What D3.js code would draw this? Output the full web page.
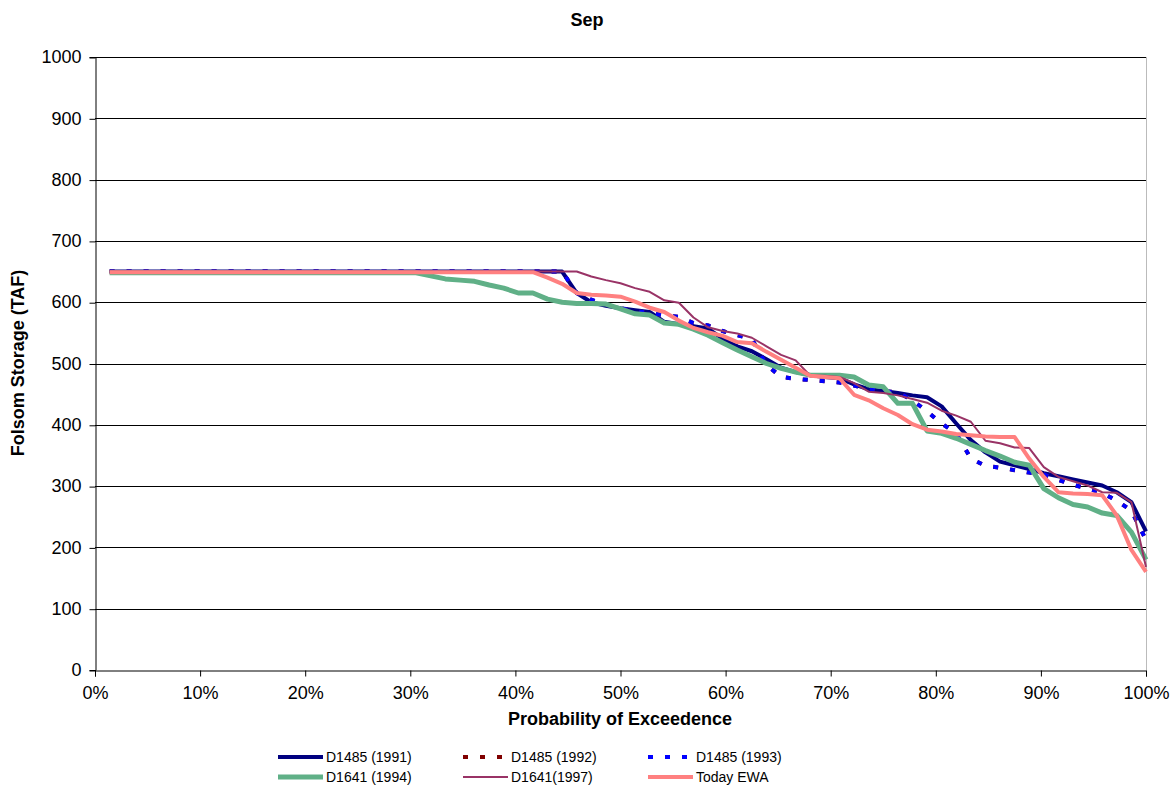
<!DOCTYPE html>
<html><head><meta charset="utf-8">
<script src="https://cdn.jsdelivr.net/npm/d3@7"></script>
<style>body{margin:0;background:#fff;} text{font-family:Arial,"Liberation Sans",sans-serif;}</style>
</head><body><svg id="c" width="1175" height="788"></svg>
<script>
const N = 72; // ranked years, exceedance = i/N
const yTicks = [0,100,200,300,400,500,600,700,800,900,1000];
const xTicks = [0,0.1,0.2,0.3,0.4,0.5,0.6,0.7,0.8,0.9,1.0];

function flat(n, v){ return Array(n).fill(v); }

const d1485_1991 = flat(32,650).concat([615,600,594,590,587,584,568,564,561,557,540,528,520,507,493,486,481,478,476,466,458,455,452,448,445,430,402,375,355,340,334,328,321,316,311,306,301,290,274,226]);
const d1485_1993 = flat(32,650).concat([615,604,596,590,586,582,579,576,566,562,553,546,540,498,478,475,473,471,469,464,458,455,453,440,422,402,386,345,333,330,326,322,319,310,302,296,289,276,260,212]);
const d1485_1992 = d1485_1993.slice();
const d1641_1994 = flat(22,648).concat([643,638,636,634,628,623,615,615,605,600,598,598,597,589,581,579,566,564,556,546,534,522,511,500,492,486,481,481,481,478,465,462,435,435,390,386,378,368,358,349,339,334,296,281,270,266,256,252,225,180]);
const d1641_1997 = flat(33,650).concat([642,636,631,623,617,603,599,575,559,553,549,542,528,514,505,480,480,478,468,454,452,448,442,436,423,415,405,374,370,363,362,331,315,308,301,290,289,274,168]);
const todayEWA = flat(30,649).concat([640,630,615,612,611,609,601,591,584,570,558,551,545,535,533,519,506,493,480,478,476,449,440,427,416,401,392,389,385,383,381,380,380,345,315,290,288,287,285,252,196,160]);

const series = [
  {name:"D1485 (1991)", values:d1485_1991, color:"#000080", width:4, dash:null},
  {name:"D1485 (1992)", values:d1485_1992, color:"#800000", width:4, dash:"5,12"},
  {name:"D1485 (1993)", values:d1485_1993, color:"#0000FF", width:4, dash:"5,12"},
  {name:"D1641 (1994)", values:d1641_1994, color:"#60B087", width:5, dash:null},
  {name:"D1641(1997)", values:d1641_1997, color:"#993366", width:2, dash:null},
  {name:"Today EWA", values:todayEWA, color:"#FF8080", width:4, dash:null}
];

const svg = d3.select("#c");
const L=95, R=1146, T=57, B=670;
const x = d3.scaleLinear().domain([0,1]).range([L,R]);
const y = d3.scaleLinear().domain([0,1000]).range([B,T]);

// gridlines
svg.append("g").selectAll("line").data(yTicks.filter(d=>d>0)).join("line")
  .attr("x1",L).attr("x2",R).attr("y1",d=>Math.round(y(d))+0.5).attr("y2",d=>Math.round(y(d))+0.5)
  .attr("stroke","#000").attr("stroke-width",1);
// right border
svg.append("line").attr("x1",R+0.5).attr("x2",R+0.5).attr("y1",T).attr("y2",B).attr("stroke","#bbb");

// axes
const yAxis = d3.axisLeft(y).tickValues(yTicks).tickSize(6).tickPadding(8).tickFormat(d3.format("d"));
const gy = svg.append("g").attr("transform",`translate(${L+0.5},0)`).call(yAxis);
const xAxis = d3.axisBottom(x).tickValues(xTicks).tickSize(6).tickPadding(10).tickFormat(d3.format(".0%"));
const gx = svg.append("g").attr("transform",`translate(0,${Math.round(B)+0.5})`).call(xAxis);
[gx,gy].forEach(g=>{
  g.select(".domain").attr("stroke","#000");
  g.selectAll(".tick line").attr("stroke","#000");
  g.selectAll(".tick text").attr("font-size",18).attr("fill","#000").attr("font-family","Arial, 'Liberation Sans', sans-serif");
});
gy.selectAll(".tick line").attr("transform","translate(0,0.5)");

// lines
const line = d3.line().x((d,i)=>x((i+1)/N)).y(d=>y(d));
series.forEach(s=>{
  svg.append("path").datum(s.values).attr("d",line)
    .attr("fill","none").attr("stroke",s.color).attr("stroke-width",s.width)
    .attr("stroke-dasharray",s.dash).attr("stroke-linejoin","round");
});

// titles
svg.append("text").attr("x",587).attr("y",26).attr("text-anchor","middle").attr("font-size",18).attr("font-weight","bold").text("Sep");
svg.append("text").attr("x",620).attr("y",725).attr("text-anchor","middle").attr("font-size",18).attr("font-weight","bold").text("Probability of Exceedence");
svg.append("text").attr("transform","translate(24,363) rotate(-90)").attr("text-anchor","middle").attr("font-size",18).attr("font-weight","bold").text("Folsom Storage (TAF)");

// legend
const legX=[278,463,648], legY=[757,777];
series.forEach((s,k)=>{
  const cx = legX[k%3], cy = legY[Math.floor(k/3)];
  svg.append("line").attr("x1",cx).attr("x2",cx+45).attr("y1",cy).attr("y2",cy)
    .attr("stroke",s.color).attr("stroke-width",s.width).attr("stroke-dasharray",s.dash);
  svg.append("text").attr("x",cx+48).attr("y",cy+5).attr("font-size",14).text(s.name);
});
</script></body></html>
